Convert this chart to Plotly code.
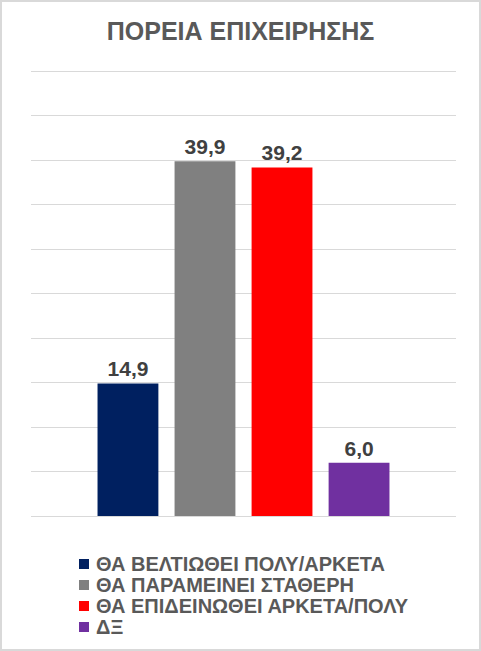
import plotly.graph_objects as go

# Données
title = "ΠΟΡΕΙΑ ΕΠΙΧΕΙΡΗΣΗΣ"
series = [
    "ΘΑ ΒΕΛΤΙΩΘΕΙ ΠΟΛΥ/ΑΡΚΕΤΑ",
    "ΘΑ ΠΑΡΑΜΕΙΝΕΙ ΣΤΑΘΕΡΗ",
    "ΘΑ ΕΠΙΔΕΙΝΩΘΕΙ ΑΡΚΕΤΑ/ΠΟΛΥ",
    "ΔΞ",
]
values = [14.9, 39.9, 39.2, 6.0]
colors = ["#002060", "#808080", "#ff0000", "#7030a0"]
category = [""]

W, H = 481, 651
ml, mr, mt, mb = 31, 25, 70, 135
pw = W - ml - mr
ph = H - mt - mb
FONT = "Liberation Sans, Arial"


def px_x(px):
    # pixel -> paper (horizontal)
    return (px - ml) / pw


def px_y(py):
    # pixel (from top) -> paper (vertical)
    return (H - mb - py) / ph


fig = go.Figure()
for name, val, col in zip(series, values, colors):
    fig.add_trace(go.Bar(
        x=category,
        y=[val],
        name=name,
        marker=dict(color=col, line=dict(width=0)),
        texttemplate="%{y:.1f}",
        textposition="outside",
        textfont=dict(family=FONT, size=21, color="#404040", weight="bold"),
        cliponaxis=False,
        hoverinfo="skip",
        showlegend=False,
    ))

fig.update_layout(
    width=W,
    height=H,
    margin=dict(l=ml, r=mr, t=mt, b=mb, pad=0),
    paper_bgcolor="white",
    plot_bgcolor="white",
    separators=",.",
    barmode="group",
    bargap=0.275,
    bargroupgap=0.21,
    title=dict(
        text="<b>" + title + "</b>",
        x=0.5,
        xanchor="center",
        y=1 - 31 / H,
        yanchor="middle",
        font=dict(family=FONT, size=25, color="#595959"),
    ),
    xaxis=dict(showticklabels=False, showgrid=False, zeroline=False, showline=False, ticks=""),
    yaxis=dict(
        range=[0, 50.15],
        dtick=5,
        showticklabels=False,
        showgrid=True,
        gridcolor="#d9d9d9",
        gridwidth=1,
        zeroline=True,
        zerolinecolor="#d9d9d9",
        zerolinewidth=1,
        ticks="",
    ),
    showlegend=False,
)

# légende dessinée à la main (carrés + textes)
for i, (name, col) in enumerate(zip(series, colors)):
    cy = 564 + 21 * i
    fig.add_shape(
        type="rect", xref="paper", yref="paper",
        x0=px_x(79), x1=px_x(89), y0=px_y(cy + 5), y1=px_y(cy - 5),
        fillcolor=col, line=dict(width=0),
    )
    fig.add_annotation(
        text="<b>" + name + "</b>",
        xref="paper", yref="paper",
        x=px_x(94), y=px_y(cy),
        xanchor="left", yanchor="middle",
        showarrow=False,
        font=dict(family=FONT, size=20, color="#595959"),
    )

# cadre gris autour du graphique
fig.add_shape(
    type="rect",
    xref="paper", yref="paper",
    x0=px_x(1), x1=px_x(480),
    y0=px_y(650), y1=px_y(1),
    line=dict(color="#d9d9d9", width=2),
    layer="below",
)

fig.write_html(
    "out.html",
    config={"displayModeBar": False},
    post_script="document.body.style.margin='0';",
)
